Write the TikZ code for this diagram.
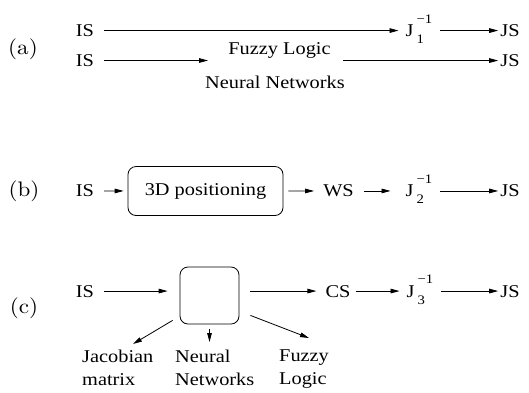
\documentclass[tikz,border=0pt]{standalone}
\usepackage{fontspec}
\setmainfont{Liberation Serif}[FakeStretch=1.13]
\newfontfamily\panelfont{lmroman10-regular.otf}[FakeStretch=1.1]
\usetikzlibrary{positioning,arrows.meta,calc}

\newcommand\termfont{\fontsize{18}{23}\selectfont}
\newcommand\supfont{\fontsize{13}{13}\selectfont}
% J with the inverse mark on top and the index below
\newcommand\jinv[1]{J\hspace{3pt}\makebox[0pt][l]{\raisebox{13.5pt}{\supfont\textminus1}}\makebox[0pt][l]{\raisebox{-7pt}{\supfont#1}}\hphantom{\supfont\textminus1}}

\begin{document}
\begin{tikzpicture}[
  x=1pt, y=-1pt,
  >={Triangle[length=9pt,width=4.6pt]},
  term/.style={font=\termfont, inner xsep=5pt, inner ysep=0pt, text height=11.9pt, text depth=0pt, anchor=base},
  jterm/.style={term, inner xsep=3pt},
  target/.style={term, inner xsep=0pt},
  panel/.style={font=\panelfont\fontsize{21}{21}\selectfont, inner sep=0pt, anchor=base},
  box/.style={draw, line width=0.8pt, rounded corners=8pt, font=\termfont, inner sep=0pt},
  note/.style={font=\termfont, align=left, inner sep=0pt, anchor=north west},
  arrow/.style={->, line width=0.8pt, shorten <=5pt, shorten >=4pt},
  tojs/.style={arrow, shorten >=2pt},
]
  \useasboundingbox (0,0) rectangle (529,392);

  % Panel labels
  \node[panel] (pa) at (23,54) {(a)};
  \node[panel] (pb) at (24,196) {(b)};
  \node[panel] (pc) at (24,313) {(c)};

  % (a) direct inverse
  \node[term] (is1) at (85,36.5) {IS};
  \node[jterm] (j1) at (419,36.5) {\jinv{1}};
  \node[target] (js1) at (510,36.5) {JS};
  \draw[arrow] (is1) -- (j1);
  \draw[tojs] (j1) -- (js1);

  % (a) learned mapping
  \node[term] (is2) at (85,66.5) {IS};
  \node[term, inner sep=0pt] (fl2) at (279.5,54) {Fuzzy Logic};
  \node[term, inner sep=0pt] (nn2) at (275,88) {Neural Networks};
  \coordinate (in2) at (208,60.5);
  \coordinate (out2) at (343,60.5);
  \node[target] (js2) at (510,66.5) {JS};
  \draw[arrow, shorten >=0pt] (is2) -- (in2);
  \draw[tojs, shorten <=0pt] (out2) -- (js2);

  % (b) through the work space
  \node[term] (is3) at (85,196.9) {IS};
  \node[box, minimum width=155pt, minimum height=49pt] (pos3) at (205.5,191) {3D positioning};
  \node[term] (ws3) at (338.5,196.9) {WS};
  \node[jterm] (j3) at (419,196.9) {\jinv{2}};
  \node[target] (js3) at (510,196.9) {JS};
  \draw[arrow] (is3) -- (pos3);
  \draw[arrow] (pos3) -- (ws3);
  \draw[arrow, shorten >=12pt] (ws3) -- (j3);
  \draw[tojs] (j3) -- (js3);

  % (c) through the camera space
  \node[term] (is4) at (85,297) {IS};
  \node[box, minimum width=59pt, minimum height=57pt] (ctl4) at (209.5,295.5) {};
  \node[term] (cs4) at (338,297) {CS};
  \node[jterm] (j4) at (420,297) {\jinv{3}};
  \node[target] (js4) at (510,297) {JS};
  \draw[arrow, shorten >=12pt] (is4) -- (is4 -| ctl4.west);
  \draw[arrow, shorten <=11pt] (cs4 -| ctl4.east) -- (cs4);
  \draw[arrow, shorten <=0pt] (cs4) -- (j4);
  \draw[tojs] (j4) -- (js4);

  % choices for the box
  \node[note] (jac4) at (82,350) {Jacobian\\matrix};
  \node[note] (nn4) at (175,350) {Neural\\Networks};
  \node[note] (fl4) at (279,350) {Fuzzy\\Logic};
  \draw[arrow, shorten <=0pt, shorten >=0pt] ([shift={(-7,-4)}]ctl4.south west) -- ([shift={(51,-6)}]jac4.north west);
  \draw[arrow, shorten >=8pt] (ctl4.south) -- (ctl4.south |- nn4.north);
  \draw[arrow, shorten <=0pt, shorten >=0pt] ([shift={(11,-9)}]ctl4.south east) -- ([shift={(30,-12)}]fl4.north west);
\end{tikzpicture}
\end{document}
